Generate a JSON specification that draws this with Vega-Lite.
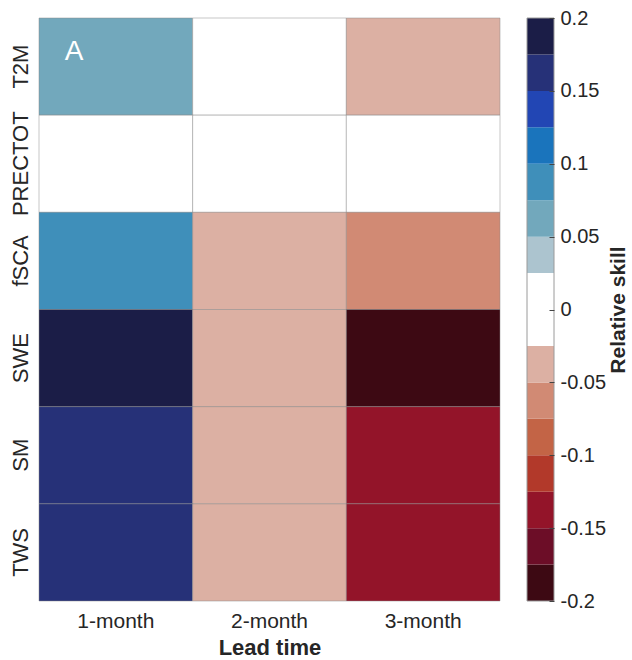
{
  "$schema": "https://vega.github.io/schema/vega-lite/v6.json",
  "background": "white",
  "padding": {"left": 8, "top": 8, "right": 2, "bottom": 2},
  "config": {
    "font": "Liberation Sans",
    "view": {"stroke": null},
    "axis": {"labelColor": "#262626", "titleColor": "#262626", "labelFont": "Liberation Sans", "titleFont": "Liberation Sans"}
  },
  "spacing": 25,
  "resolve": {"scale": {"color": "independent"}},
  "hconcat": [
    {
      "width": 461,
      "height": 583,
      "data": {
        "values": [
          {"var": "T2M", "lead": "1-month", "skill": 0.06},
          {"var": "T2M", "lead": "2-month", "skill": 0.0},
          {"var": "T2M", "lead": "3-month", "skill": -0.04},
          {"var": "PRECTOT", "lead": "1-month", "skill": 0.0},
          {"var": "PRECTOT", "lead": "2-month", "skill": 0.0},
          {"var": "PRECTOT", "lead": "3-month", "skill": 0.0},
          {"var": "fSCA", "lead": "1-month", "skill": 0.09},
          {"var": "fSCA", "lead": "2-month", "skill": -0.04},
          {"var": "fSCA", "lead": "3-month", "skill": -0.06},
          {"var": "SWE", "lead": "1-month", "skill": 0.19},
          {"var": "SWE", "lead": "2-month", "skill": -0.04},
          {"var": "SWE", "lead": "3-month", "skill": -0.19},
          {"var": "SM", "lead": "1-month", "skill": 0.16},
          {"var": "SM", "lead": "2-month", "skill": -0.04},
          {"var": "SM", "lead": "3-month", "skill": -0.14},
          {"var": "TWS", "lead": "1-month", "skill": 0.16},
          {"var": "TWS", "lead": "2-month", "skill": -0.04},
          {"var": "TWS", "lead": "3-month", "skill": -0.14}
        ]
      },
      "layer": [
        {
          "mark": {"type": "rect", "stroke": "#888888", "strokeWidth": 0.8, "strokeOpacity": 0.6},
          "encoding": {
            "x": {
              "field": "lead", "type": "nominal", "sort": ["1-month", "2-month", "3-month"],
              "scale": {"paddingInner": 0, "paddingOuter": 0},
              "axis": {"title": "Lead time", "labelAngle": 0, "ticks": false, "domain": false, "labelFontSize": 21, "labelPadding": 9, "titleFontSize": 22, "titleFontWeight": "bold", "titlePadding": 6}
            },
            "y": {
              "field": "var", "type": "nominal", "sort": ["T2M", "PRECTOT", "fSCA", "SWE", "SM", "TWS"],
              "scale": {"paddingInner": 0, "paddingOuter": 0},
              "axis": {"title": null, "labelAngle": -90, "ticks": false, "domain": false, "labelFontSize": 22, "labelPadding": 7, "labelAlign": "center", "labelBaseline": "bottom"}
            },
            "color": {
              "field": "skill", "type": "quantitative", "legend": null,
              "scale": {
                "type": "threshold",
                "domain": [-0.175, -0.15, -0.125, -0.1, -0.075, -0.05, -0.025, 0, 0.025, 0.05, 0.075, 0.1, 0.125, 0.15, 0.175],
                "range": ["#3d0913", "#6c0d27", "#931429", "#b2392a", "#c36446", "#d18a74", "#dcb0a3", "#ffffff", "#ffffff", "#acc4cf", "#72a8bc", "#3f8fba", "#1a74bc", "#2246b4", "#263178", "#1b1d47"]
              }
            }
          }
        },
        {
          "data": {"values": [{"label": "A", "lead": "1-month", "var": "T2M"}]},
          "mark": {"type": "text", "color": "white", "fontSize": 28, "align": "left", "baseline": "alphabetic", "dx": -51, "dy": -7},
          "encoding": {
            "x": {"field": "lead", "type": "nominal", "sort": ["1-month", "2-month", "3-month"]},
            "y": {"field": "var", "type": "nominal", "sort": ["T2M", "PRECTOT", "fSCA", "SWE", "SM", "TWS"]},
            "text": {"field": "label"}
          }
        }
      ]
    },
    {
      "width": 27,
      "height": 583,
      "layer": [
        {
          "data": {
            "values": [
              {"lo": -0.2, "hi": -0.175, "mid": -0.1875},
              {"lo": -0.175, "hi": -0.15, "mid": -0.1625},
              {"lo": -0.15, "hi": -0.125, "mid": -0.1375},
              {"lo": -0.125, "hi": -0.1, "mid": -0.1125},
              {"lo": -0.1, "hi": -0.075, "mid": -0.0875},
              {"lo": -0.075, "hi": -0.05, "mid": -0.0625},
              {"lo": -0.05, "hi": -0.025, "mid": -0.0375},
              {"lo": -0.025, "hi": 0, "mid": -0.0125},
              {"lo": 0, "hi": 0.025, "mid": 0.0125},
              {"lo": 0.025, "hi": 0.05, "mid": 0.0375},
              {"lo": 0.05, "hi": 0.075, "mid": 0.0625},
              {"lo": 0.075, "hi": 0.1, "mid": 0.0875},
              {"lo": 0.1, "hi": 0.125, "mid": 0.1125},
              {"lo": 0.125, "hi": 0.15, "mid": 0.1375},
              {"lo": 0.15, "hi": 0.175, "mid": 0.1625},
              {"lo": 0.175, "hi": 0.2, "mid": 0.1875}
            ]
          },
          "mark": {"type": "rect"},
          "encoding": {
            "y": {
              "field": "lo", "type": "quantitative",
              "scale": {"domain": [-0.2, 0.2], "nice": false, "zero": false},
              "axis": {
                "orient": "right", "title": "Relative skill", "titleAngle": -90, "titleFontSize": 21, "titleFontWeight": "bold", "titlePadding": 23,
                "values": [-0.2, -0.15, -0.1, -0.05, 0, 0.05, 0.1, 0.15, 0.2],
                "labelExpr": "datum.value + ''", "labelFontSize": 20, "labelPadding": 11, "labelFlush": false,
                "domain": false, "grid": false, "ticks": true, "tickSize": -5, "tickColor": "#444444", "tickWidth": 1, "zindex": 1
              }
            },
            "y2": {"field": "hi"},
            "color": {
              "field": "mid", "type": "quantitative", "legend": null,
              "scale": {
                "type": "threshold",
                "domain": [-0.175, -0.15, -0.125, -0.1, -0.075, -0.05, -0.025, 0, 0.025, 0.05, 0.075, 0.1, 0.125, 0.15, 0.175],
                "range": ["#3d0913", "#6c0d27", "#931429", "#b2392a", "#c36446", "#d18a74", "#dcb0a3", "#ffffff", "#ffffff", "#acc4cf", "#72a8bc", "#3f8fba", "#1a74bc", "#2246b4", "#263178", "#1b1d47"]
              }
            }
          }
        },
        {
          "data": {"values": [{"lo": -0.2, "hi": 0.2}]},
          "mark": {"type": "rect", "fill": null, "fillOpacity": 0, "stroke": "#9a9a9a", "strokeWidth": 1},
          "encoding": {
            "y": {"field": "lo", "type": "quantitative"},
            "y2": {"field": "hi"}
          }
        }
      ]
    }
  ]
}
